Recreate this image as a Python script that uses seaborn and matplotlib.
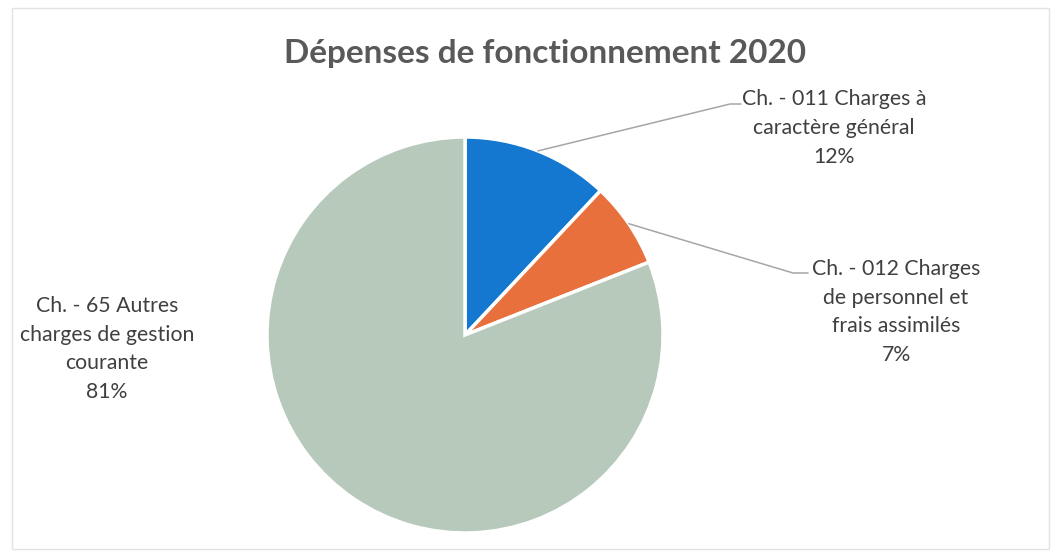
import numpy as np
import matplotlib
matplotlib.use("Agg")
import matplotlib.pyplot as plt
import matplotlib.patches as mpatches
import seaborn as sns

# donnees
categories = [
    "Ch. - 011 Charges à\ncaractère général",
    "Ch. - 012 Charges\nde personnel et\nfrais assimilés",
    "Ch. - 65 Autres\ncharges de gestion\ncourante",
]
valeurs = [12, 7, 81]
couleurs = ["#1478d0", "#e8703c", "#b6c9bb"]
titre = "Dépenses de fonctionnement 2020"

sns.set_theme(style="white")
plt.rcParams["font.family"] = ["Lato", "DejaVu Sans"]

W, H = 1059, 557
fig = plt.figure(figsize=(W / 100, H / 100), dpi=100)
fig.patch.set_facecolor("white")

# centre du camembert et rayon en pixels
cx, cy, r = 465, 335, 198
ax = fig.add_axes([(cx - r) / W, (H - cy - r) / H, 2 * r / W, 2 * r / H])

wedges, _ = ax.pie(valeurs, colors=couleurs, startangle=90, counterclock=False,
                   wedgeprops=dict(edgecolor="white", linewidth=2.5), radius=1)
ax.set_xlim(-1, 1)
ax.set_ylim(-1, 1)
ax.set_aspect("equal")
ax.axis("off")

# libelles : centre du texte (px), coude et fin de la ligne de rappel (px)
positions = [
    dict(txt=(834, 128), coude=(730, 104), fin=(741, 104)),
    dict(txt=(896, 312), coude=(793, 273), fin=(808, 273)),
    dict(txt=(107, 349), coude=None, fin=None),
]

def px_to_data(p):
    return ((p[0] - cx) / r, (cy - p[1]) / r)

total = sum(valeurs)
for w, cat, val, pos in zip(wedges, categories, valeurs, positions):
    ang = np.deg2rad((w.theta1 + w.theta2) / 2)
    tx, ty = px_to_data(pos["txt"])
    ax.text(tx, ty, f"{cat}\n{round(100 * val / total)}%", ha="center", va="center",
            fontsize=15.3, color="#404040", linespacing=1.56, clip_on=False)
    if pos["coude"] is not None:
        x0, y0 = np.cos(ang), np.sin(ang)
        x1, y1 = px_to_data(pos["coude"])
        x2, y2 = px_to_data(pos["fin"])
        ax.plot([x0, x1, x2], [y0, y1, y2], color="#a6a6a6", lw=1.1, clip_on=False)

fig.text(545 / W, 1 - 53 / H, titre, ha="center", va="center", fontsize=24,
         fontweight="bold", color="#595959")

fig.patches.append(mpatches.Rectangle((12 / W, 8 / H), 1 - 22 / W, 1 - 16 / H,
                                      transform=fig.transFigure, fill=False,
                                      edgecolor="#e3e3e3", lw=1))

fig.savefig("out.png", dpi=100)
